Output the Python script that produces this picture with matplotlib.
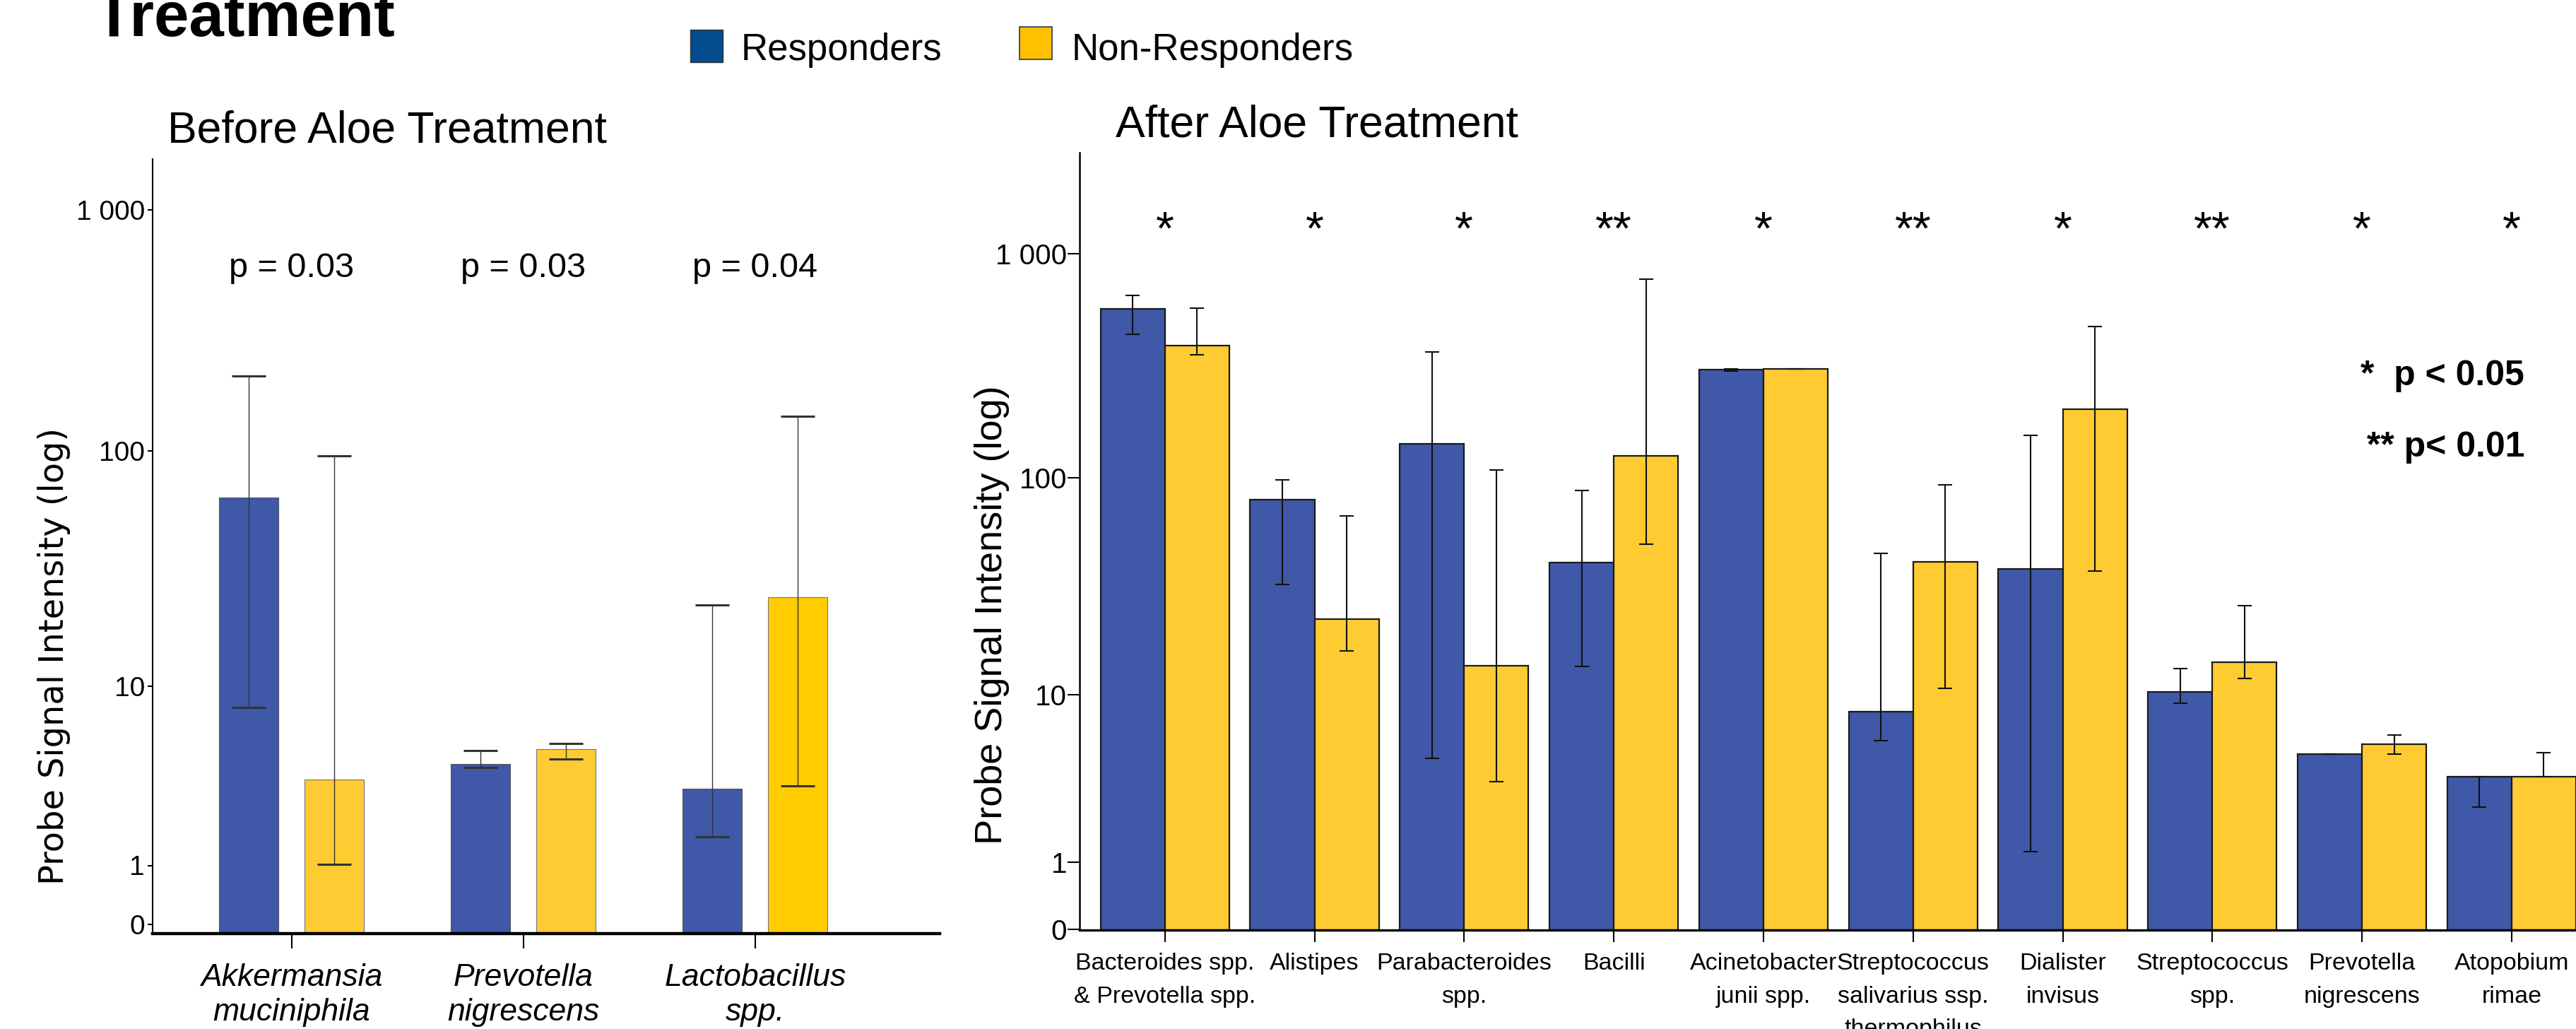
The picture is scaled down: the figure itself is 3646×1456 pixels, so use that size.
import numpy as np
import matplotlib
matplotlib.use("Agg")
import matplotlib.pyplot as plt
from matplotlib.patches import Rectangle
import matplotlib.transforms as mtransforms

# ---------------- data ----------------
species_before = ["Akkermansia\nmuciniphila", "Prevotella\nnigrescens", "Lactobacillus\nspp."]
before_resp = [63.4, 3.69, 2.67]
before_resp_lo = [7.6, 3.52, 1.45]
before_resp_hi = [205, 4.39, 22.2]
before_non = [3.02, 4.44, 23.9]
before_non_lo = [1.01, 3.93, 2.79]
before_non_hi = [95.3, 4.80, 139]
p_values = ["p = 0.03", "p = 0.03", "p = 0.04"]

species_after = ["Bacteroides spp.\n& Prevotella spp.", "Alistipes", "Parabacteroides\nspp.",
                 "Bacilli", "Acinetobacter\njunii spp.",
                 "Streptococcus\nsalivarius ssp.\nthermophilus", "Dialister\ninvisus",
                 "Streptococcus\nspp.", "Prevotella\nnigrescens", "Atopobium\nrimae"]
after_resp = [565, 78.9, 141, 40.7, 303, 7.88, 37.8, 10.3, 4.42, 3.25]
after_resp_lo = [436, 32.1, 4.18, 13.5, 298, 5.31, 1.15, 8.85, 4.42, 2.14]
after_resp_hi = [649, 97.4, 363, 87.3, 306, 44.7, 154, 13.2, 4.42, 3.25]
after_non = [388, 22.2, 13.6, 125, 306, 40.9, 202, 14.1, 5.06, 3.25]
after_non_lo = [352, 15.9, 3.03, 49.4, 306, 10.7, 37.0, 11.9, 4.42, 3.25]
after_non_hi = [571, 66.7, 108, 767, 306, 92.4, 471, 25.6, 5.76, 4.51]
significance = ["*", "*", "*", "**", "*", "**", "*", "**", "*", "*"]

ytick_values = [0, 1, 10, 100, 1000]
ytick_labels = ["0", "1", "10", "100", "1 000"]
legend_labels = ["Responders", "Non-Responders"]

# ---------------- style ----------------
W, H = 3646, 1456
FONT = "Liberation Sans"
plt.rcParams["font.family"] = [FONT, "DejaVu Sans"]

BLUE = "#4058A8"
YELLOW = "#FECB32"
LEFT_YELLOWS = [YELLOW, YELLOW, "#FFCC00"]
LEG_BLUE = "#024B8C"
LEG_YELLOW = "#FFC000"


def make_scale(pos):
    pos = np.asarray(pos, float)
    dec = np.arange(len(pos))

    def fwd(v):
        v = np.asarray(v, float)
        lg = np.log10(np.where(v > 1, v, 1.0))
        return np.where(v <= 1, v * pos[0], np.interp(lg, dec, pos))

    def inv(p):
        p = np.asarray(p, float)
        return np.where(p <= pos[0], p / pos[0], 10 ** np.interp(p, pos, dec))

    return fwd, inv


fig = plt.figure(figsize=(W / 100, H / 100), dpi=100)


def fx(px):
    return px / W


def fy(py):
    return 1 - py / H


# ---------------- left panel ----------------
ax1 = fig.add_axes([fx(216), fy(1321), fx(1330 - 216), (1321 - 225) / H])
fwd1, inv1 = make_scale([83.5, 337, 670, 1011, 1352])
ax1.set_yscale("function", functions=(fwd1, inv1))
ymin1 = float(inv1(-13))
ax1.set_ylim(ymin1, float(inv1(1083)))
ax1.set_xlim(-0.6, 2.796)

x1 = np.arange(len(species_before))
bw1, off1 = 0.256, 0.1845
r = np.array(before_resp)
n = np.array(before_non)
ax1.bar(x1 - off1, r - ymin1, bottom=ymin1, width=bw1, color=BLUE, edgecolor="#555555", linewidth=0.8, zorder=2)
ax1.bar(x1 + off1, n - ymin1, bottom=ymin1, width=bw1, color=LEFT_YELLOWS, edgecolor="#777777", linewidth=0.8, zorder=2)
ax1.errorbar(x1 - off1, r, yerr=[r - np.array(before_resp_lo), np.array(before_resp_hi) - r],
             fmt="none", ecolor="#333333", elinewidth=1.0, capsize=17, capthick=2.2, zorder=3)
ax1.errorbar(x1 + off1, n, yerr=[n - np.array(before_non_lo), np.array(before_non_hi) - n],
             fmt="none", ecolor="#333333", elinewidth=1.0, capsize=17, capthick=2.2, zorder=3)

ax1.set_yticks(ytick_values)
ax1.set_yticklabels(ytick_labels, fontsize=28)
ax1.yaxis.set_minor_locator(matplotlib.ticker.NullLocator())
ax1.tick_params(axis="y", length=5, width=1.5, pad=3)
ax1.set_xticks(x1)
ax1.set_xticklabels(species_before, fontsize=32, style="italic", linespacing=1.25)
ax1.tick_params(axis="x", length=15, width=1.5, pad=15)
for s in ["top", "right"]:
    ax1.spines[s].set_visible(False)
ax1.spines["left"].set_linewidth(1.5)
ax1.spines["bottom"].set_linewidth(3.2)

trans1 = mtransforms.blended_transform_factory(ax1.transData, ax1.transAxes)
for i, p in enumerate(p_values):
    ax1.text(x1[i], 0.848, p, transform=trans1, ha="center", va="baseline", fontsize=35)

fig.text(fx(77), fy(928), "Probe Signal Intensity (log)", rotation=90, ha="center", va="center",
         fontsize=34.5, family="DejaVu Sans")
fig.text(fx(237), fy(202), "Before Aloe Treatment", fontsize=45, ha="left", va="baseline")

# ---------------- right panel ----------------
ax2 = fig.add_axes([fx(1528), fy(1316), fx(3646 - 1528), (1316 - 216) / H])
fwd2, inv2 = make_scale([94.7, 331.8, 639.1, 956.2, 1273])
ax2.set_yscale("function", functions=(fwd2, inv2))
ymin2 = float(inv2(-1.5))
ax2.set_ylim(ymin2, float(inv2(1099)))
ax2.set_xlim(-0.57, 9.43)

x2 = np.arange(len(species_after))
bw2, off2 = 0.43, 0.215
r2 = np.array(after_resp)
n2 = np.array(after_non)
ax2.bar(x2 - off2, r2 - ymin2, bottom=ymin2, width=bw2, color=BLUE, edgecolor="#1a1a1a", linewidth=1.6, zorder=2)
ax2.bar(x2 + off2, n2 - ymin2, bottom=ymin2, width=bw2, color=YELLOW, edgecolor="#1a1a1a", linewidth=1.6, zorder=2)
ax2.errorbar(x2 - off2, r2, yerr=[r2 - np.array(after_resp_lo), np.array(after_resp_hi) - r2],
             fmt="none", ecolor="#111111", elinewidth=1.5, capsize=7.5, capthick=1.5, zorder=3)
ax2.errorbar(x2 + off2, n2, yerr=[n2 - np.array(after_non_lo), np.array(after_non_hi) - n2],
             fmt="none", ecolor="#111111", elinewidth=1.5, capsize=7.5, capthick=1.5, zorder=3)

ax2.set_yticks(ytick_values)
ax2.set_yticklabels(ytick_labels, fontsize=29)
ax2.yaxis.set_minor_locator(matplotlib.ticker.NullLocator())
ax2.tick_params(axis="y", length=12, width=1.5, pad=1)
ax2.set_xticks(x2)
ax2.set_xticklabels(species_after, fontsize=24.5, linespacing=1.65)
ax2.tick_params(axis="x", length=12, width=1.5, pad=11)
for s in ["top", "right"]:
    ax2.spines[s].set_visible(False)
ax2.spines["left"].set_linewidth(1.8)
ax2.spines["bottom"].set_linewidth(2.4)

trans2 = mtransforms.blended_transform_factory(ax2.transData, ax2.transAxes)
for i, s in enumerate(significance):
    ax2.text(x2[i], 0.882, s, transform=trans2, ha="center", va="baseline", fontsize=48)

fig.text(fx(1404), fy(870), "Probe Signal Intensity (log)", rotation=90, ha="center", va="center",
         fontsize=39)
fig.text(fx(1579), fy(194), "After Aloe Treatment", fontsize=45, ha="left", va="baseline")
fig.text(fx(3573), fy(545), "*  p < 0.05", fontsize=36, weight="bold", ha="right", va="baseline")
fig.text(fx(3573), fy(646), "** p< 0.01", fontsize=36, weight="bold", ha="right", va="baseline")

# ---------------- header & legend ----------------
fig.text(fx(134), fy(51), "Treatment", fontsize=64, weight="bold", ha="left", va="baseline")
fig.add_artist(Rectangle((fx(977), fy(88)), 46 / W, 46 / H, transform=fig.transFigure,
                         facecolor=LEG_BLUE, edgecolor="#333333", linewidth=1))
fig.text(fx(1049), fy(85), legend_labels[0], fontsize=38, ha="left", va="baseline")
fig.add_artist(Rectangle((fx(1443), fy(84)), 46 / W, 46 / H, transform=fig.transFigure,
                         facecolor=LEG_YELLOW, edgecolor="#555555", linewidth=1.5))
fig.text(fx(1517), fy(85), legend_labels[1], fontsize=38, ha="left", va="baseline")

fig.savefig("out.png", dpi=100)
